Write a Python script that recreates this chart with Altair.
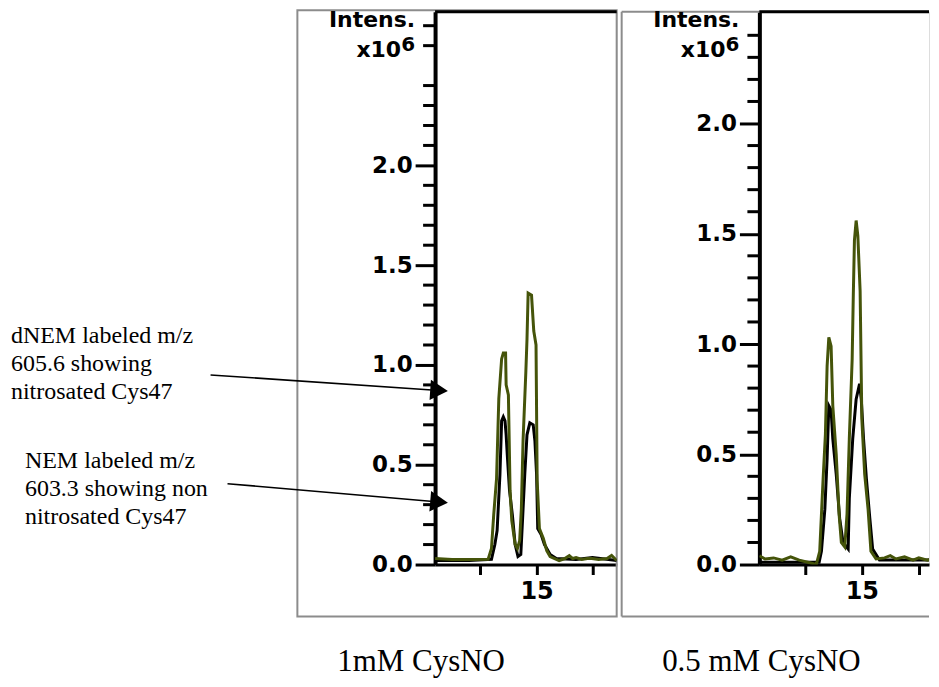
import altair as alt
import pandas as pd

# ---------------- data (retention time in min, intensity x10^6) ----------------
# Left panel: 1mM CysNO
L_green_t = [13.20, 13.50, 13.90, 14.14, 14.20, 14.24, 14.29, 14.33, 14.38, 14.41, 14.45, 14.46,
             14.50, 14.53, 14.56, 14.62, 14.66, 14.70, 14.73, 14.76, 14.81, 14.83, 14.85, 14.91,
             14.95, 14.99, 15.01, 15.05, 15.12, 15.18, 15.24, 15.32, 15.40, 15.50, 15.58, 15.64,
             15.70, 15.80, 15.90, 15.98, 16.10, 16.25, 16.33, 16.42]
L_green_v = [0.03, 0.025, 0.025, 0.026, 0.08, 0.25, 0.43, 0.83, 1.03, 1.06, 1.06, 0.90,
             0.85, 0.37, 0.22, 0.10, 0.08, 0.12, 0.28, 0.62, 0.97, 1.13, 1.36, 1.35,
             1.17, 1.10, 0.42, 0.18, 0.13, 0.07, 0.04, 0.03, 0.02, 0.03, 0.045, 0.03,
             0.035, 0.025, 0.03, 0.03, 0.025, 0.03, 0.045, 0.02]
L_black_t = [13.20, 13.80, 14.20, 14.26, 14.30, 14.35, 14.38, 14.41, 14.44, 14.46, 14.48, 14.52,
             14.57, 14.62, 14.67, 14.72, 14.75, 14.79, 14.83, 14.88, 14.94, 14.97, 15.00, 15.02,
             15.08, 15.14, 15.24, 15.35, 15.70, 15.99, 16.42]
L_black_v = [0.02, 0.02, 0.026, 0.10, 0.17, 0.45, 0.72, 0.74, 0.72, 0.65, 0.55, 0.37,
             0.25, 0.10, 0.04, 0.05, 0.22, 0.45, 0.65, 0.71, 0.70, 0.62, 0.45, 0.18,
             0.15, 0.10, 0.05, 0.03, 0.025, 0.035, 0.02]

# Right panel: 0.5 mM CysNO
R_green_t = [13.20, 13.30, 13.45, 13.60, 13.75, 13.90, 14.05, 14.20, 14.26, 14.32, 14.36, 14.39,
             14.42, 14.46, 14.49, 14.55, 14.60, 14.64, 14.70, 14.74, 14.78, 14.83, 14.85, 14.87,
             14.90, 14.93, 14.97, 15.00, 15.05, 15.11, 15.16, 15.25, 15.40, 15.50, 15.60, 15.75,
             15.90, 16.00, 16.15, 16.30, 16.34]
R_green_v = [0.04, 0.025, 0.03, 0.02, 0.035, 0.02, 0.01, 0.0, 0.06, 0.39, 0.59, 0.90,
             1.03, 0.99, 0.72, 0.50, 0.23, 0.10, 0.08, 0.23, 0.57, 0.93, 1.22, 1.47,
             1.56, 1.49, 1.24, 0.66, 0.41, 0.25, 0.06, 0.025, 0.03, 0.04, 0.025, 0.035,
             0.02, 0.03, 0.02, 0.03, 0.035]
R_black_t = [13.20, 13.80, 14.25, 14.29, 14.35, 14.39, 14.42, 14.46, 14.49, 14.55, 14.61, 14.67,
             14.76, 14.78, 14.84, 14.90, 14.96, 14.99, 15.03, 15.08, 15.14, 15.19, 15.31, 16.34]
R_black_v = [0.01, 0.01, 0.01, 0.06, 0.25, 0.48, 0.72, 0.70, 0.57, 0.41, 0.21, 0.10,
             0.07, 0.30, 0.57, 0.75, 0.82, 0.75, 0.57, 0.39, 0.21, 0.07, 0.02, 0.02]

major_ticks = [0.0, 0.5, 1.0, 1.5, 2.0]
L_minor = [round(i * 0.1, 1) for i in range(1, 28) if i % 5 != 0]
R_minor = [round(i * 0.1, 1) for i in range(1, 25) if i % 5 != 0]
x_ticks = [14, 15, 16]
captions = ["1mM CysNO", "0.5 mM CysNO"]
annot1 = ["dNEM labeled m/z", "605.6 showing", "nitrosated Cys47"]
annot2 = ["NEM labeled m/z", "603.3 showing non", "nitrosated Cys47"]

GREEN = "#45540a"
GRAY = "#8c8c8c"
BOLD = "DejaVu Sans"
SERIF = "Liberation Serif"
H = 554
one = pd.DataFrame({"k": [0]})


def panel(gt, gv, bt, bv, width, ymax, xmax, minor, caption, cap_x, box_left, box_top, left_panel):
    xs = alt.Scale(domain=[13.2, xmax], nice=False, zero=False)
    ys = alt.Scale(domain=[0, ymax], nice=False)
    xax = alt.Axis(values=x_ticks, labelExpr="datum.value == 15 ? '15' : ''", title=None,
                   grid=False, tickSize=10, tickWidth=3, tickColor="black", domainWidth=3,
                   domainColor="black", labelFont=BOLD, labelFontWeight="bold", labelFontSize=24,
                   labelColor="black", labelPadding=5)
    yax = alt.Axis(values=major_ticks, format=".1f", title=None, grid=False, tickSize=20,
                   tickWidth=3, tickColor="black", domainWidth=4, domainColor="black",
                   labelFont=BOLD, labelFontWeight="bold", labelFontSize=23, labelColor="black",
                   labelPadding=3)
    layers = []
    # grey frame
    if left_panel:
        layers.append(alt.Chart(one).mark_rect(fillOpacity=0, stroke=GRAY, strokeWidth=2).encode(
            x=alt.value(box_left), x2=alt.value(width), y=alt.value(box_top), y2=alt.value(606)))
    else:
        layers.append(alt.Chart(one).mark_rule(color=GRAY, strokeWidth=2).encode(
            x=alt.value(box_left), y=alt.value(box_top), y2=alt.value(606)))
        layers.append(alt.Chart(one).mark_rule(color=GRAY, strokeWidth=2).encode(
            x=alt.value(box_left), x2=alt.value(width), y=alt.value(box_top)))
        layers.append(alt.Chart(one).mark_rule(color=GRAY, strokeWidth=2).encode(
            x=alt.value(box_left), x2=alt.value(width), y=alt.value(606)))
    dfb = pd.DataFrame({"t": bt, "v": bv})
    dfg = pd.DataFrame({"t": gt, "v": gv})
    layers.append(alt.Chart(dfb).mark_line(color="black", strokeWidth=3, clip=True).encode(
        x=alt.X("t:Q", scale=xs, axis=xax), y=alt.Y("v:Q", scale=ys, axis=yax)))
    layers.append(alt.Chart(dfg).mark_line(color=GREEN, strokeWidth=3, clip=True).encode(
        x="t:Q", y="v:Q"))
    # minor ticks
    layers.append(alt.Chart(pd.DataFrame({"v": minor})).mark_rule(color="black", strokeWidth=3).encode(
        y="v:Q", x=alt.value(-12), x2=alt.value(0)))
    # top frame line
    layers.append(alt.Chart(one).mark_rule(color="black", strokeWidth=3).encode(
        x=alt.value(0), x2=alt.value(width), y=alt.value(0)))
    # axis title
    layers.append(alt.Chart(one).mark_text(align="right", baseline="top", font=BOLD,
                                           fontWeight="bold", fontSize=22, color="black").encode(
        x=alt.value(-20), y=alt.value(-1.5), text=alt.value("Intens.")))
    layers.append(alt.Chart(one).mark_text(align="right", baseline="alphabetic", font=BOLD,
                                           fontWeight="bold", fontSize=22, color="black").encode(
        x=alt.value(-34), y=alt.value(45), text=alt.value("x10")))
    layers.append(alt.Chart(one).mark_text(align="right", baseline="alphabetic", font=BOLD,
                                           fontWeight="bold", fontSize=20, color="black").encode(
        x=alt.value(-20), y=alt.value(39), text=alt.value("6")))
    # caption
    layers.append(alt.Chart(one).mark_text(align="center", baseline="alphabetic", font=SERIF,
                                           fontSize=31, color="black").encode(
        x=alt.value(cap_x), y=alt.value(661), text=alt.value(caption)))
    if left_panel:
        for txt, tx, ty in [("\n".join(annot1), -425, 332), ("\n".join(annot2), -411, 457)]:
            layers.append(alt.Chart(one).mark_text(align="left", baseline="alphabetic", font=SERIF,
                                                   fontSize=24, lineBreak="\n", lineHeight=28,
                                                   color="black").encode(
                x=alt.value(tx), y=alt.value(ty), text=alt.value(txt)))
        for (x0, y0, x1, y1, ang) in [(-225, 364, 4, 379.6, 3.9), (-208, 473, 4, 491.3, 4.9)]:
            layers.append(alt.Chart(one).mark_rule(color="black", strokeWidth=1.6).encode(
                x=alt.value(x0), y=alt.value(y0), x2=alt.value(x1), y2=alt.value(y1)))
            layers.append(alt.Chart(one).mark_point(shape="triangle-right", filled=True, size=420,
                                                    angle=ang, color="black", opacity=1).encode(
                x=alt.value(x1), y=alt.value(y1)))
    return alt.layer(*layers).properties(width=width, height=H)


p1 = panel(L_green_t, L_green_v, L_black_t, L_black_v, 182, 2.77, 16.42, L_minor,
           captions[0], -14, -138, -1.5, True)
p2 = panel(R_green_t, R_green_v, R_black_t, R_black_v, 170, 2.507, 16.18, R_minor,
           captions[1], 2, -138, 0, False)

chart = alt.hconcat(p1, p2, spacing=1).properties(
    padding={"left": 2, "top": 0, "right": 0, "bottom": 0}
).configure_view(stroke="transparent").configure(background="white")

chart.save("out.html", embed_options={"renderer": "svg", "actions": False})
